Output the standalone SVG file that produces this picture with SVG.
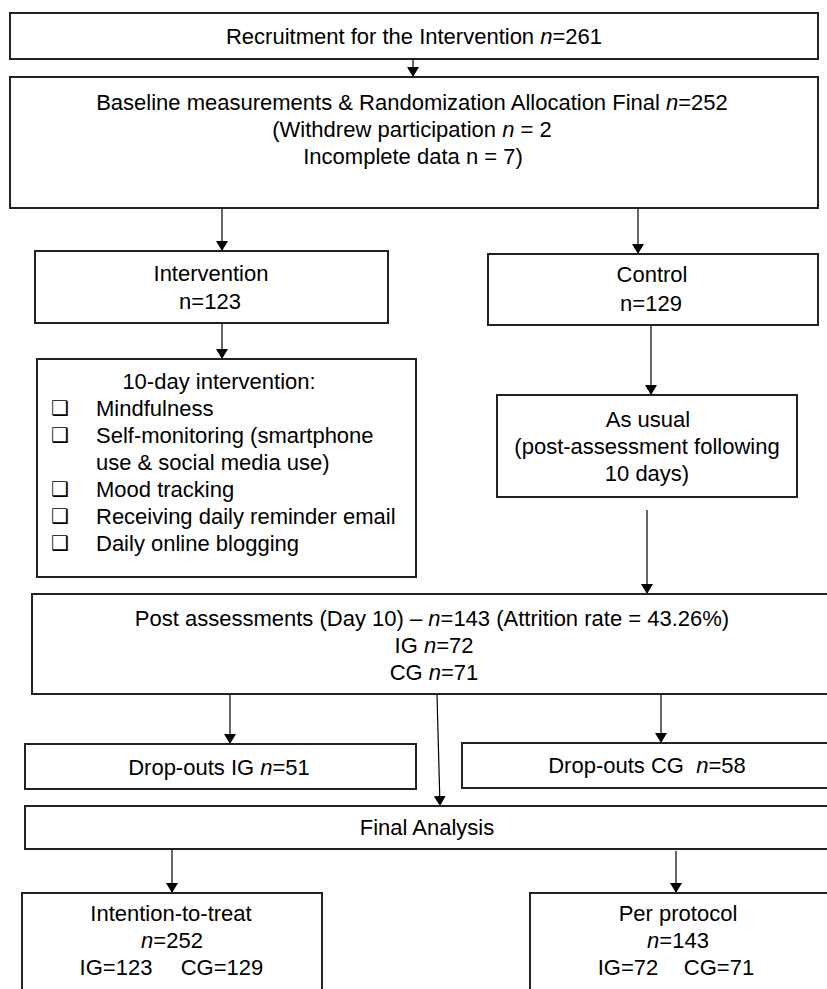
<svg xmlns="http://www.w3.org/2000/svg" width="827" height="989" viewBox="0 0 827 989">
<style>
  .box { fill: #ffffff; stroke: #222222; stroke-width: 2; }
  .t { font-family: "Liberation Sans", Arial, sans-serif; font-size: 22px; fill: #000000; text-anchor: middle; }
  .l { font-family: "Liberation Sans", Arial, sans-serif; font-size: 22px; fill: #000000; }
  .cb { font-family: "DejaVu Sans", sans-serif; font-size: 20px; fill: #000000; }
  .i { font-style: italic; }
  .c { stroke: #000000; stroke-width: 1.2; fill: none; marker-end: url(#ah); }
</style>
<defs>
  <marker id="ah" viewBox="0 0 10 12" refX="10" refY="6" markerUnits="userSpaceOnUse" markerWidth="10" markerHeight="12" orient="auto">
    <path d="M0,0 L10,6 L0,12 Z" fill="#000000"/>
  </marker>
</defs>
<rect width="827" height="989" fill="#ffffff"/>

<g id="connectors">
  <line class="c" x1="413" y1="59" x2="413" y2="77"/>
  <line class="c" x1="222" y1="209" x2="222" y2="251"/>
  <line class="c" x1="638" y1="209" x2="638" y2="254"/>
  <line class="c" x1="222" y1="324" x2="222" y2="359"/>
  <line class="c" x1="651" y1="326" x2="651" y2="395"/>
  <line class="c" x1="647" y1="510" x2="647" y2="594"/>
  <line class="c" x1="230" y1="695" x2="230" y2="744"/>
  <line class="c" x1="661" y1="695" x2="661" y2="743"/>
  <line class="c" x1="437" y1="695" x2="440" y2="806"/>
  <line class="c" x1="172" y1="850" x2="172" y2="893"/>
  <line class="c" x1="676" y1="851" x2="676" y2="893"/>
</g>

<g id="recruitment">
  <rect class="box" x="10" y="13" width="808" height="46"/>
  <text class="t" x="414" y="44">Recruitment for the Intervention <tspan class="i">n</tspan>=261</text>
</g>

<g id="baseline">
  <rect class="box" x="10" y="77" width="808" height="131"/>
  <text class="t" x="412" y="110">Baseline measurements &amp; Randomization Allocation Final <tspan class="i">n</tspan>=252</text>
  <text class="t" x="412" y="137">(Withdrew participation <tspan class="i">n</tspan> = 2</text>
  <text class="t" x="413" y="164">Incomplete data n = 7)</text>
</g>

<g id="intervention">
  <rect class="box" x="35" y="251" width="353" height="72"/>
  <text class="t" x="211" y="281">Intervention</text>
  <text class="t" x="210" y="309">n=123</text>
</g>

<g id="control">
  <rect class="box" x="488" y="254" width="330" height="71"/>
  <text class="t" x="652" y="282">Control</text>
  <text class="t" x="651" y="311">n=129</text>
</g>

<g id="ten-day">
  <rect class="box" x="37" y="359" width="379" height="218"/>
  <text class="t" x="219" y="389">10-day intervention:</text>
  <text class="cb" x="51" y="415">❑</text>
  <text class="l" x="96" y="416">Mindfulness</text>
  <text class="cb" x="51" y="442">❑</text>
  <text class="l" x="96" y="443">Self-monitoring (smartphone</text>
  <text class="l" x="96" y="470">use &amp; social media use)</text>
  <text class="cb" x="51" y="496">❑</text>
  <text class="l" x="96" y="497">Mood tracking</text>
  <text class="cb" x="51" y="523">❑</text>
  <text class="l" x="96" y="524">Receiving daily reminder email</text>
  <text class="cb" x="51" y="550">❑</text>
  <text class="l" x="96" y="551">Daily online blogging</text>
</g>

<g id="as-usual">
  <rect class="box" x="497" y="395" width="300" height="102"/>
  <text class="t" x="648" y="427">As usual</text>
  <text class="t" x="647" y="454">(post-assessment following</text>
  <text class="t" x="647" y="481">10 days)</text>
</g>

<g id="post">
  <rect class="box" x="32" y="594" width="810" height="100"/>
  <text class="t" x="432" y="626">Post assessments (Day 10) – <tspan class="i">n</tspan>=143 (Attrition rate = 43.26%)</text>
  <text class="t" x="434" y="653">IG <tspan class="i">n</tspan>=72</text>
  <text class="t" x="434" y="680">CG <tspan class="i">n</tspan>=71</text>
</g>

<g id="dropouts-ig">
  <rect class="box" x="25" y="744" width="391" height="45"/>
  <text class="t" x="219" y="775">Drop-outs IG <tspan class="i">n</tspan>=51</text>
</g>

<g id="dropouts-cg">
  <rect class="box" x="462" y="743" width="380" height="45"/>
  <text class="t" x="647" y="773" xml:space="preserve">Drop-outs CG  <tspan class="i">n</tspan>=58</text>
</g>

<g id="final-analysis">
  <rect class="box" x="25" y="806" width="817" height="43"/>
  <text class="t" x="427" y="835">Final Analysis</text>
</g>

<g id="itt">
  <rect class="box" x="22" y="893" width="300" height="110"/>
  <text class="t" x="171" y="921">Intention-to-treat</text>
  <text class="t" x="172" y="948"><tspan class="i">n</tspan>=252</text>
  <text class="t" x="116" y="975">IG=123</text>
  <text class="t" x="222" y="975">CG=129</text>
</g>

<g id="per-protocol">
  <rect class="box" x="530" y="893" width="312" height="110"/>
  <text class="t" x="678" y="921">Per protocol</text>
  <text class="t" x="678" y="948"><tspan class="i">n</tspan>=143</text>
  <text class="t" x="628" y="975">IG=72</text>
  <text class="t" x="719" y="975">CG=71</text>
</g>
</svg>
